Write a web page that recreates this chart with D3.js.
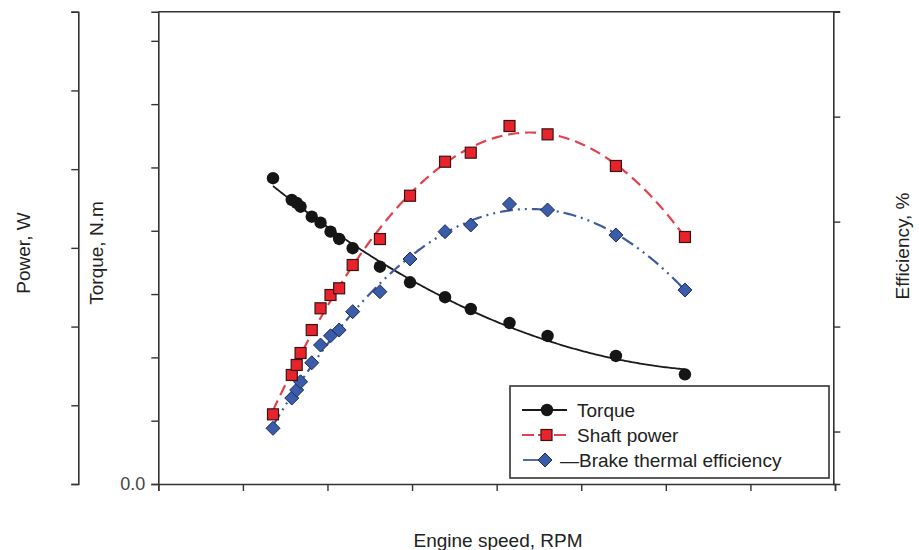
<!DOCTYPE html>
<html>
<head>
<meta charset="utf-8">
<script src="https://cdn.jsdelivr.net/npm/d3@7"></script>
<style>
	body { margin: 0; background: #fff; }
	svg { display: block; font-family: 'Liberation Sans', Arial, sans-serif; }
</style>
</head>
<body>
<div id="chart"></div>
<script>
// engine test points (RPM)
const speeds = [678, 789, 818, 841, 907, 959, 1018, 1069, 1149, 1310, 1488, 1695, 1847, 2076, 2301, 2705, 3113];
// torque, N.m
const torque = [2.415, 2.243, 2.22, 2.19, 2.111, 2.064, 1.993, 1.935, 1.862, 1.716, 1.593, 1.475, 1.382, 1.272, 1.169, 1.011, 0.866];
// shaft power, W
const shaftPower = [88.5, 138.5, 151.2, 166.4, 195.6, 223.2, 240.1, 248.6, 278.2, 311.2, 366.2, 409.4, 420.9, 454.8, 444.2, 404.0, 313.8];
// brake thermal efficiency, %
const efficiency = [10.31, 13.19, 13.96, 14.74, 16.55, 18.24, 19.12, 19.67, 21.42, 23.32, 26.44, 29.04, 29.68, 31.68, 31.11, 28.72, 23.48];

const speedTicks = [0, 500, 1000, 1500, 2000, 2500, 3000, 3500, 4000];
const torqueTicks = [0, 0.5, 1, 1.5, 2, 2.5, 3, 3.5];
const powerTicks = [0, 100, 200, 300, 400, 500, 600];
const effTicks = [10, 20, 30, 40];

const legendItems = ['Torque', 'Shaft power', '\u2014Brake thermal efficiency'];

const width = 919;
const height = 550;
const plot = { left: 158.3, right: 833.3, top: 11.7, bottom: 484 };
const textColor = '#222';
const axisColor = '#333';
const fontSize = '19px';

const svg = d3.select('#chart').append('svg').attr('width', width).attr('height', height);

const xScale = d3.scaleLinear().domain([0, 4000]).range([plot.left, 835]);
const yTorque = d3.scaleLinear().domain([0, 3.73]).range([plot.bottom, plot.top]);
const yPower = d3.scaleLinear().domain([0, 600]).range([plot.bottom, plot.top]);
const yEff = d3.scaleLinear().domain([5, 50]).range([plot.bottom, plot.top]);

// least squares polynomial fit (trend lines of the original figure)
function polyFit(xs, ys, deg) {
	const n = deg + 1;
	const A = d3.range(n).map(() => new Array(n + 1).fill(0));
	xs.forEach((x, k) => {
		for (let i = 0; i < n; i++) {
			for (let j = 0; j < n; j++) A[i][j] += Math.pow(x, i + j);
			A[i][n] += ys[k] * Math.pow(x, i);
		}
	});
	for (let c = 0; c < n; c++) {
		let p = c;
		for (let r = c + 1; r < n; r++) if (Math.abs(A[r][c]) > Math.abs(A[p][c])) p = r;
		[A[c], A[p]] = [A[p], A[c]];
		for (let r = 0; r < n; r++) {
			if (r === c) continue;
			const f = A[r][c] / A[c][c];
			for (let j = c; j <= n; j++) A[r][j] -= f * A[c][j];
		}
	}
	const coef = A.map((row, i) => row[n] / row[i]);
	return (x) => coef.reduce((s, a, i) => s + a * Math.pow(x, i), 0);
}

function trend(values, deg) {
	const f = polyFit(speeds.map((s) => s / 1000), values, deg);
	const lo = d3.min(speeds);
	const hi = d3.max(speeds);
	return d3.range(lo, hi + 1, 10).concat([hi]).map((s) => ({ s: s, v: f(s / 1000) }));
}

// Outer power axis (left)
const powerAxis = svg.append('g')
	.attr('transform', 'translate(78.3, 0)')
	.call(d3.axisLeft(yPower).tickValues(powerTicks).tickSize(7).tickFormat(''));

// Torque axis
const torqueAxis = svg.append('g')
	.attr('transform', `translate(${plot.left}, 0)`)
	.call(d3.axisLeft(yTorque).tickValues(torqueTicks).tickSize(7).tickPadding(6)
		.tickFormat((d) => (d === 0 ? '0.0' : '')));

// Efficiency axis (right)
const effAxis = svg.append('g')
	.attr('transform', `translate(${plot.right}, 0)`)
	.call(d3.axisRight(yEff).tickValues(effTicks).tickSize(7).tickFormat(''));

// Speed axis
const speedAxis = svg.append('g')
	.attr('transform', `translate(0, ${plot.bottom})`)
	.call(d3.axisBottom(xScale).tickValues(speedTicks).tickSize(7).tickFormat(''));

[powerAxis, torqueAxis, effAxis, speedAxis].forEach((g) => {
	g.select('.domain').attr('stroke', axisColor).attr('stroke-width', 1.6);
	g.selectAll('.tick line').attr('stroke', axisColor).attr('stroke-width', 1.4);
	g.selectAll('.tick text').attr('fill', '#444').style('font-size', '18px').style('font-family', 'inherit');
});

// top frame line
svg.append('line')
	.attr('x1', plot.left).attr('x2', 840)
	.attr('y1', plot.top).attr('y2', plot.top)
	.attr('stroke', axisColor).attr('stroke-width', 1.6);

// axis titles
const titles = [
	{ text: 'Power, W', x: 23, y: 253 },
	{ text: 'Torque, N.m', x: 96, y: 253 },
	{ text: 'Efficiency, %', x: 902, y: 246 }
];
svg.selectAll('.ytitle')
	.data(titles)
	.enter()
	.append('text')
	.attr('transform', (d) => `translate(${d.x}, ${d.y}) rotate(-90)`)
	.attr('text-anchor', 'middle')
	.attr('dy', '0.35em')
	.style('font-size', fontSize)
	.attr('fill', textColor)
	.text((d) => d.text);

svg.append('text')
	.attr('x', 498)
	.attr('y', 547)
	.attr('text-anchor', 'middle')
	.style('font-size', fontSize)
	.attr('fill', textColor)
	.text('Engine speed, RPM');

// trend lines
const torqueLine = d3.line().x((d) => xScale(d.s)).y((d) => yTorque(d.v));
const powerLine = d3.line().x((d) => xScale(d.s)).y((d) => yPower(d.v));
const effLine = d3.line().x((d) => xScale(d.s)).y((d) => yEff(d.v));

svg.append('path')
	.datum(trend(torque, 2))
	.attr('d', torqueLine)
	.attr('fill', 'none')
	.attr('stroke', '#1a1a1a')
	.attr('stroke-width', 1.8);

svg.append('path')
	.datum(trend(shaftPower, 3))
	.attr('d', powerLine)
	.attr('fill', 'none')
	.attr('stroke', '#e5404b')
	.attr('stroke-width', 2.2)
	.attr('stroke-dasharray', '11, 6');

svg.append('path')
	.datum(trend(efficiency, 3))
	.attr('d', effLine)
	.attr('fill', 'none')
	.attr('stroke', '#3f5b9f')
	.attr('stroke-width', 2.2)
	.attr('stroke-dasharray', '13, 5, 2, 5, 2, 5');

// markers
const diamondPath = 'M0,-7L7,0L0,7L-7,0Z';

svg.selectAll('.eff')
	.data(efficiency)
	.enter()
	.append('path')
	.attr('d', diamondPath)
	.attr('transform', (d, i) => `translate(${xScale(speeds[i])}, ${yEff(d)})`)
	.attr('fill', '#3b5ca8')
	.attr('stroke', '#1c2c5a')
	.attr('stroke-width', 1);

svg.selectAll('.pow')
	.data(shaftPower)
	.enter()
	.append('rect')
	.attr('x', (d, i) => xScale(speeds[i]) - 5.5)
	.attr('y', (d) => yPower(d) - 5.5)
	.attr('width', 11)
	.attr('height', 11)
	.attr('fill', '#e8232b')
	.attr('stroke', '#3a1414')
	.attr('stroke-width', 1.2);

svg.selectAll('.tq')
	.data(torque)
	.enter()
	.append('circle')
	.attr('cx', (d, i) => xScale(speeds[i]))
	.attr('cy', (d) => yTorque(d))
	.attr('r', 6.2)
	.attr('fill', '#151515');

// Legend
const legend = svg.append('g');
legend.append('rect')
	.attr('x', 510).attr('y', 386)
	.attr('width', 319).attr('height', 92)
	.attr('fill', '#fff')
	.attr('stroke', '#333')
	.attr('stroke-width', 1.6);

const rowY = [410, 435, 460];

legend.append('line').attr('x1', 522).attr('x2', 567).attr('y1', rowY[0]).attr('y2', rowY[0])
	.attr('stroke', '#1a1a1a').attr('stroke-width', 1.8);
legend.append('circle').attr('cx', 547).attr('cy', rowY[0]).attr('r', 6.2).attr('fill', '#151515');

legend.append('line').attr('x1', 522).attr('x2', 567).attr('y1', rowY[1]).attr('y2', rowY[1])
	.attr('stroke', '#e5404b').attr('stroke-width', 1.8).attr('stroke-dasharray', '12, 4, 5, 3, 5, 3');
legend.append('rect').attr('x', 541).attr('y', rowY[1] - 5.5).attr('width', 11).attr('height', 11)
	.attr('fill', '#e8232b').attr('stroke', '#3a1414').attr('stroke-width', 1.2);

legend.append('line').attr('x1', 523).attr('x2', 545).attr('y1', rowY[2]).attr('y2', rowY[2])
	.attr('stroke', '#3f5b9f').attr('stroke-width', 1.8);
legend.append('path').attr('d', diamondPath).attr('transform', `translate(545, ${rowY[2]})`)
	.attr('fill', '#3b5ca8').attr('stroke', '#1c2c5a').attr('stroke-width', 1);

legend.selectAll('.ltext')
	.data(legendItems)
	.enter()
	.append('text')
	.attr('x', (d, i) => (i === 2 ? 560 : 577))
	.attr('y', (d, i) => rowY[i])
	.attr('dy', '0.35em')
	.style('font-size', fontSize)
	.attr('fill', textColor)
	.text((d) => d);
</script>
</body>
</html>
